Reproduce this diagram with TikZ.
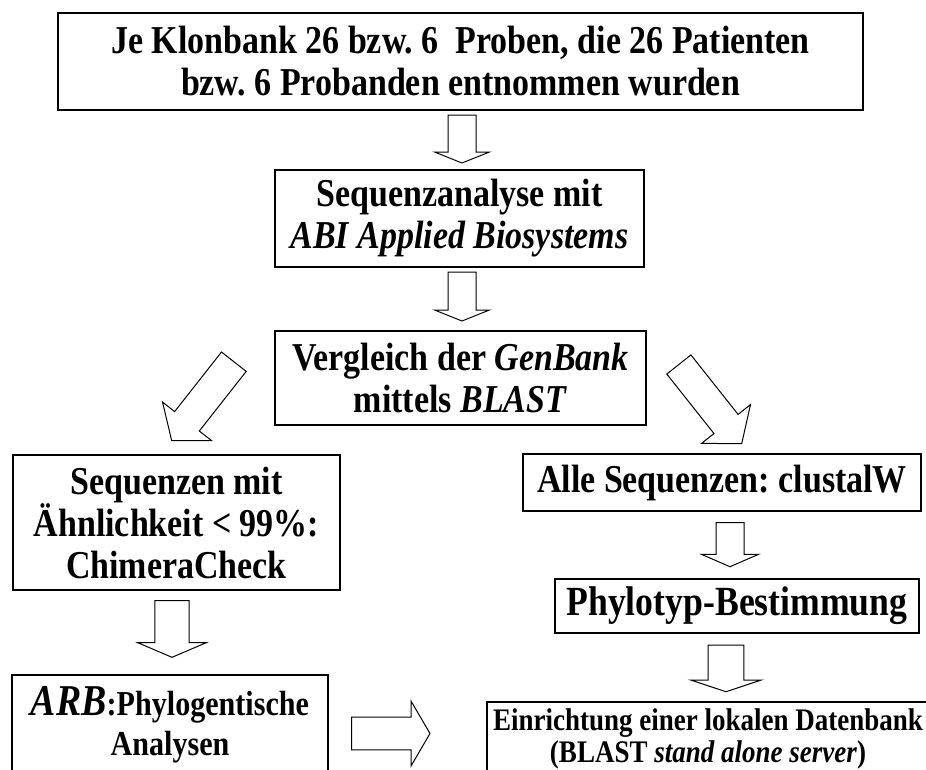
\documentclass[tikz,border=0pt]{standalone}
\usepackage{fontspec}
\setmainfont{Liberation Serif}[FakeStretch=0.86]
\usetikzlibrary{calc}
\tikzset{
  box/.style={draw, line width=2.8pt, inner sep=0pt, align=center,
    font=\bfseries\fontsize{39.5}{42}\selectfont},
  barrow/.style={draw, line width=1pt, fill=white, line join=miter},
}
\newcommand{\blockarrow}[5]{% start, end, shaft half width, head half width, head length
  \coordinate (hb) at ($(#2)!#5!(#1)$);
  \draw[barrow] ($(#1)!#3!90:(#2)$) -- ($(hb)!#3!90:(#2)$) -- ($(hb)!#4!90:(#2)$)
    -- (#2) -- ($(hb)!#4!-90:(#2)$) -- ($(hb)!#3!-90:(#2)$) -- ($(#1)!#3!-90:(#2)$) -- cycle;
}
\begin{document}
\frenchspacing
\begin{tikzpicture}[x=1pt,y=-1pt]
\useasboundingbox (0,0) rectangle (926,769);
\clip (0,0) rectangle (926,769);

\node[box, minimum width=805, minimum height=97] (b1) at (460.5,61.5)
  {Je Klonbank 26 bzw. 6 \ Proben, die 26 Patienten\\bzw. 6 Probanden entnommen wurden};
\node[box, minimum width=369, minimum height=97] (b2) at (459.5,218.5)
  {Sequenzanalyse mit\\\textit{ABI Applied Biosystems}};
\node[box, minimum width=371, minimum height=94] (b3) at (460.5,378)
  {Vergleich der \textit{GenBank}\\mittels \textit{BLAST}};
\node[box, minimum width=327, minimum height=135] (b4) at (176.5,522.5)
  {Sequenzen mit\\Ähnlichkeit < 99\%:\\ChimeraCheck};
\node[box, minimum width=398, minimum height=57] (b5) at (722,482.5)
  {Alle Sequenzen: clustalW};
\node[box, minimum width=364, minimum height=54, font=\bfseries\fontsize{41.5}{42}\selectfont] (b6) at (737,606)
  {Phylotyp-Bestimmung};
\node[box, minimum width=316, minimum height=100, font=\bfseries\fontsize{35}{40}\selectfont] (b7) at (170,725)
  {{\fontsize{44}{40}\selectfont\textit{ARB}}:Phylogentische\\Analysen};
\node[box, minimum width=442, minimum height=74, font=\bfseries\fontsize{31.4}{32}\selectfont] (b8) at (708,739)
  {Einrichtung einer lokalen Datenbank\\(BLAST \textit{stand alone server})};

% arrow end points
\coordinate (a1s) at (462,115);   \coordinate (a1e) at (462,163);
\coordinate (a2s) at (462,272);   \coordinate (a2e) at (462,321);
\coordinate (aLs) at (233.85,361.7); \coordinate (aLe) at (171.7,440.7);
\coordinate (aRs) at (678.85,364.5); \coordinate (aRe) at (741.7,443.7);
\coordinate (a3s) at (730,522.7); \coordinate (a3e) at (730,566.7);
\coordinate (a4s) at (726,645);   \coordinate (a4e) at (726,691.7);
\coordinate (a5s) at (172,600.7); \coordinate (a5e) at (172,657.3);
\coordinate (a6s) at (351.7,733.5); \coordinate (a6e) at (430,733.5);

\blockarrow{a1s}{a1e}{14pt}{27.5pt}{11pt}
\blockarrow{a2s}{a2e}{14pt}{27.5pt}{11pt}
\blockarrow{aLs}{aLe}{15.7pt}{31.1pt}{24.7pt}
\blockarrow{aRs}{aRe}{15.4pt}{31.2pt}{25.2pt}
\blockarrow{a3s}{a3e}{14pt}{28.6pt}{12.4pt}
\blockarrow{a4s}{a4e}{17.8pt}{35.3pt}{11.7pt}
\blockarrow{a5s}{a5e}{17.2pt}{34.2pt}{14.6pt}
\blockarrow{a6s}{a6e}{16.3pt}{32.5pt}{19pt}
\end{tikzpicture}
\end{document}
